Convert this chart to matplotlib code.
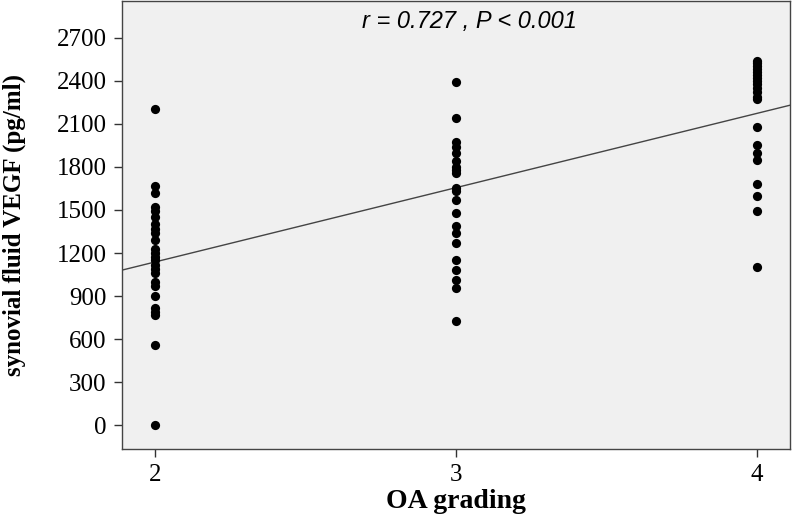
import numpy as np
from matplotlib import pyplot as plt

# OA grade groups and synovial fluid VEGF (pg/ml)
grade2 = [2200, 1670, 1620, 1520, 1490, 1450, 1400, 1370, 1340, 1290, 1230,
          1200, 1170, 1150, 1120, 1090, 1060, 1000, 970, 900, 820, 790, 770,
          560, 0]
grade3 = [2390, 2140, 1970, 1940, 1900, 1840, 1800, 1780, 1760, 1650, 1630,
          1570, 1480, 1390, 1340, 1270, 1150, 1080, 1010, 960, 730]
grade4 = [2540, 2520, 2500, 2480, 2460, 2440, 2420, 2400, 2380, 2350, 2320,
          2290, 2270, 2080, 1950, 1900, 1850, 1680, 1600, 1490, 1100]

# fitted line as drawn in the figure
fit_intercept = 104
fit_slope = 517

y_ticks = [0, 300, 600, 900, 1200, 1500, 1800, 2100, 2400, 2700]
x_ticks = [2, 3, 4]

x = np.concatenate([np.full(len(grade2), 2), np.full(len(grade3), 3),
                    np.full(len(grade4), 4)])
y = np.concatenate([grade2, grade3, grade4])

fig = plt.figure(figsize=(7.92, 5.15), dpi=100)
ax = fig.add_axes([0.154, 0.128, 0.843, 0.870])
ax.set_facecolor('#f0f0f0')

ax.scatter(x, y, s=44, color='black', zorder=3, linewidths=0)

xl = np.array([1.8, 4.2])
ax.plot(xl, fit_intercept + fit_slope * xl, color='#444444', linewidth=1, zorder=2)

ax.set_xlim(1.89, 4.11)
ax.set_ylim(-165, 2955)
ax.set_xticks(x_ticks)
ax.set_yticks(y_ticks)

ax.tick_params(direction='out', length=6, width=1, color='#333333',
               labelsize=18, pad=5, top=False, right=False)
for lab in ax.get_xticklabels() + ax.get_yticklabels():
    lab.set_fontfamily('Liberation Serif')

for sp in ax.spines.values():
    sp.set_color('#444444')
    sp.set_linewidth(1)

ax.set_xlabel('OA grading', fontsize=20, fontweight='bold',
              family='Liberation Serif', labelpad=2)
ax.set_ylabel('synovial fluid VEGF (pg/ml)', fontsize=18, fontweight='bold',
              family='Liberation Serif')
ax.yaxis.set_label_coords(-0.144, 0.5)

ax.text(0.52, 0.955, 'r = 0.727 , P < 0.001', transform=ax.transAxes,
        ha='center', va='center', fontsize=17, style='italic',
        family='Liberation Sans')

fig.savefig('out.png', dpi=100)
